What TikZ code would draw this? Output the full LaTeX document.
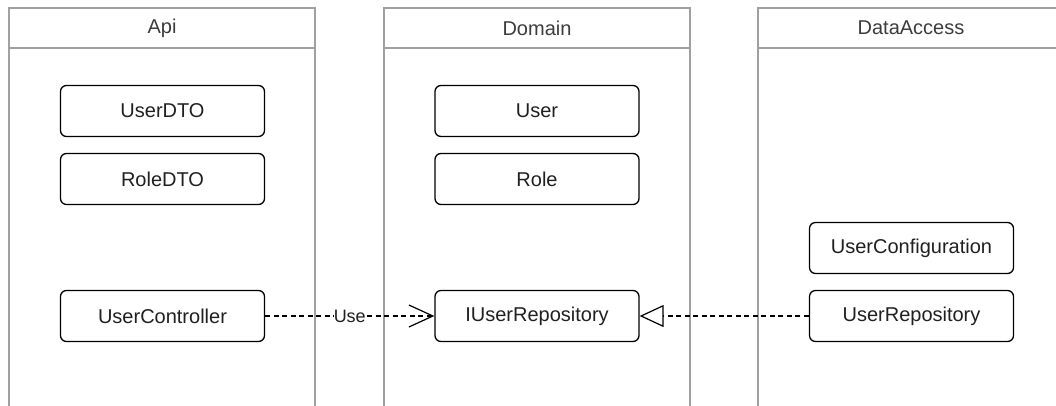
\documentclass[tikz,border=0pt]{standalone}
\usepackage{fontspec}
\setmainfont{Liberation Sans}
\usetikzlibrary{arrows.meta}
\definecolor{lanegray}{HTML}{A0A0A0}
\definecolor{headtext}{HTML}{3C3C3C}
\definecolor{boxtext}{HTML}{202020}
\tikzset{
  lane/.style={draw=lanegray, line width=1.1pt},
  lanetitle/.style={text=headtext, font=\fontsize{20}{24}\selectfont, inner sep=0pt},
  classbox/.style={draw=black, line width=1.3pt, rounded corners=6pt,
    minimum width=204pt, minimum height=51pt, inner sep=0pt,
    text=boxtext, font=\fontsize{20}{24}\selectfont},
  depline/.style={draw=black, line width=1.2pt, dash pattern=on 5pt off 3.5pt},
  uselabel/.style={fill=white, inner sep=0pt, text=boxtext, font=\fontsize{18}{22}\selectfont}
}
\begin{document}
\begin{tikzpicture}[x=1pt, y=-1pt]
\useasboundingbox (0,0) rectangle (1056,405);
\begin{scope}
\clip (0,0) rectangle (1056,405);
% swimlanes (open towards the bottom)
\foreach \l/\r in {9/315, 384/690, 758/1064} {
  \draw[lane] (\l,420) -- (\l,8) -- (\r,8) -- (\r,420);
  \draw[lane] (\l,48) -- (\r,48);
}
\end{scope}
\node[lanetitle] (tApi) at (162,28) {Api};
\node[lanetitle] (tDomain) at (537,28) {Domain};
\node[lanetitle] (tData) at (911,28) {DataAccess};

% Api
\node[classbox] (userdto) at (162.5,111) {UserDTO};
\node[classbox] (roledto) at (162.5,179) {RoleDTO};
\node[classbox] (ctrl) at (162.5,316) {UserController};
% Domain
\node[classbox] (user) at (537,111) {User};
\node[classbox] (role) at (537,179) {Role};
\node[classbox] (irepo) at (537,316) {IUserRepository};
% DataAccess
\node[classbox] (config) at (911.5,248) {UserConfiguration};
\node[classbox] (repo) at (911.5,316) {UserRepository};

% dependencies
\draw[depline, -{Straight Barb[length=24pt, width=22pt, line width=1.2pt]}]
  (ctrl) -- node[uselabel] (use) {Use} (irepo);
\draw[depline, -{Triangle[open, length=24pt, width=22pt, line width=1.2pt, fill=white]}]
  (repo) -- (irepo);
\end{tikzpicture}
\end{document}
